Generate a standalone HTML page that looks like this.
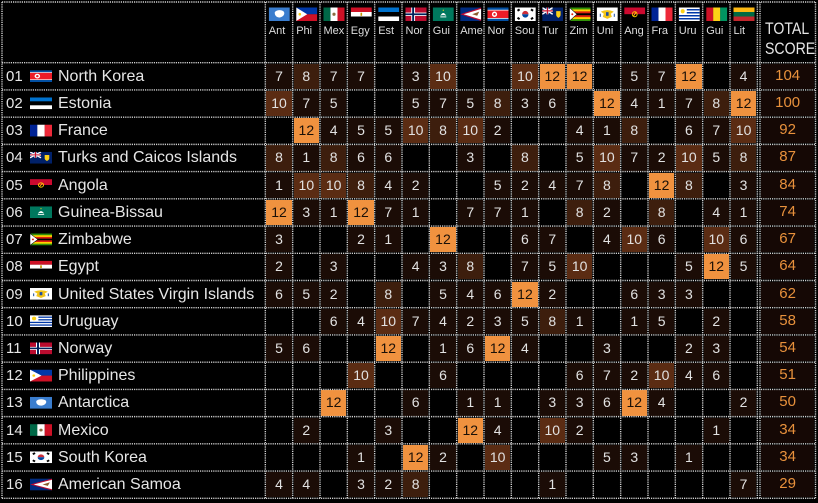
<!DOCTYPE html>
<html><head><meta charset="utf-8">
<style>
html,body{margin:0;padding:0;background:#000;}
#w{position:relative;width:818px;height:503px;overflow:hidden;background:#000;font-family:"Liberation Sans",sans-serif;}
.row{position:absolute;left:0;width:818px;height:27.225px;}
.row b{position:absolute;left:6px;top:0;font-weight:normal;font-size:15px;line-height:27.2px;color:#e6e6e6}
.row i{position:absolute;left:58px;top:0;font-style:normal;font-size:16px;line-height:27.2px;color:#e6e6e6;white-space:nowrap}
.row div.g{position:absolute;left:265.33px;top:0;height:27.225px;display:flex}
.g span{flex:0 0 27.33px;height:27.225px;box-sizing:border-box;border:1.2px solid #000;background-clip:padding-box;color:#e2e2e2;font-size:14px;line-height:24.8px;text-align:center;}
.g span.a{background-color:#1b0c06}
.g span.b{background-color:#3d1e0d}
.g span.c{background-color:#5b2c13}
.g span.d{background-color:#f0923f;color:#1a1008}
.g span.t{flex:0 0 55.5px;margin-left:2.67px;background-color:#150805;color:#e8913c;font-size:15px}
.h{position:absolute;top:25.7px;font-size:11px;line-height:11px;color:#ddd}
.tt{position:absolute;left:765px;font-size:17px;line-height:17px;color:#e6e6e6;transform:scaleX(0.83);transform-origin:0 0;}
svg{position:absolute;left:0;top:0}
</style></head><body><div id="w">

<div class="h" style="left:268.8px">Ant</div>
<div class="h" style="left:296.2px">Phi</div>
<div class="h" style="left:323.5px">Mex</div>
<div class="h" style="left:350.8px">Egy</div>
<div class="h" style="left:378.2px">Est</div>
<div class="h" style="left:405.5px">Nor</div>
<div class="h" style="left:432.8px">Gui</div>
<div class="h" style="left:460.2px">Ame</div>
<div class="h" style="left:487.5px">Nor</div>
<div class="h" style="left:514.8px">Sou</div>
<div class="h" style="left:542.2px">Tur</div>
<div class="h" style="left:569.5px">Zim</div>
<div class="h" style="left:596.8px">Uni</div>
<div class="h" style="left:624.2px">Ang</div>
<div class="h" style="left:651.5px">Fra</div>
<div class="h" style="left:678.8px">Uru</div>
<div class="h" style="left:706.2px">Gui</div>
<div class="h" style="left:733.5px">Lit</div>
<div class="tt" style="top:19.6px">TOTAL</div>
<div class="tt" style="top:40.2px">SCORE</div>

<div class="row" style="top:62.7px"><b>01</b><i>North Korea</i><div class="g"><span class="a">7</span><span class="b">8</span><span class="a">7</span><span class="a">7</span><span></span><span class="a">3</span><span class="c">10</span><span></span><span></span><span class="c">10</span><span class="d">12</span><span class="d">12</span><span></span><span class="a">5</span><span class="a">7</span><span class="d">12</span><span></span><span class="a">4</span><span class="t">104</span></div></div>
<div class="row" style="top:89.93px"><b>02</b><i>Estonia</i><div class="g"><span class="c">10</span><span class="a">7</span><span class="a">5</span><span></span><span></span><span class="a">5</span><span class="a">7</span><span class="a">5</span><span class="b">8</span><span class="a">3</span><span class="a">6</span><span></span><span class="d">12</span><span class="a">4</span><span class="a">1</span><span class="a">7</span><span class="b">8</span><span class="d">12</span><span class="t">100</span></div></div>
<div class="row" style="top:117.15px"><b>03</b><i>France</i><div class="g"><span></span><span class="d">12</span><span class="a">4</span><span class="a">5</span><span class="a">5</span><span class="c">10</span><span class="b">8</span><span class="c">10</span><span class="a">2</span><span></span><span></span><span class="a">4</span><span class="a">1</span><span class="b">8</span><span></span><span class="a">6</span><span class="a">7</span><span class="c">10</span><span class="t">92</span></div></div>
<div class="row" style="top:144.38px"><b>04</b><i>Turks and Caicos Islands</i><div class="g"><span class="b">8</span><span class="a">1</span><span class="b">8</span><span class="a">6</span><span class="a">6</span><span></span><span></span><span class="a">3</span><span></span><span class="b">8</span><span></span><span class="a">5</span><span class="c">10</span><span class="a">7</span><span class="a">2</span><span class="c">10</span><span class="a">5</span><span class="b">8</span><span class="t">87</span></div></div>
<div class="row" style="top:171.6px"><b>05</b><i>Angola</i><div class="g"><span class="a">1</span><span class="c">10</span><span class="c">10</span><span class="b">8</span><span class="a">4</span><span class="a">2</span><span></span><span></span><span class="a">5</span><span class="a">2</span><span class="a">4</span><span class="a">7</span><span class="b">8</span><span></span><span class="d">12</span><span class="b">8</span><span></span><span class="a">3</span><span class="t">84</span></div></div>
<div class="row" style="top:198.83px"><b>06</b><i>Guinea-Bissau</i><div class="g"><span class="d">12</span><span class="a">3</span><span class="a">1</span><span class="d">12</span><span class="a">7</span><span class="a">1</span><span></span><span class="a">7</span><span class="a">7</span><span class="a">1</span><span></span><span class="b">8</span><span class="a">2</span><span></span><span class="b">8</span><span></span><span class="a">4</span><span class="a">1</span><span class="t">74</span></div></div>
<div class="row" style="top:226.05px"><b>07</b><i>Zimbabwe</i><div class="g"><span class="a">3</span><span></span><span></span><span class="a">2</span><span class="a">1</span><span></span><span class="d">12</span><span></span><span></span><span class="a">6</span><span class="a">7</span><span></span><span class="a">4</span><span class="c">10</span><span class="a">6</span><span></span><span class="c">10</span><span class="a">6</span><span class="t">67</span></div></div>
<div class="row" style="top:253.28px"><b>08</b><i>Egypt</i><div class="g"><span class="a">2</span><span></span><span class="a">3</span><span></span><span></span><span class="a">4</span><span class="a">3</span><span class="b">8</span><span></span><span class="a">7</span><span class="a">5</span><span class="c">10</span><span></span><span></span><span></span><span class="a">5</span><span class="d">12</span><span class="a">5</span><span class="t">64</span></div></div>
<div class="row" style="top:280.5px"><b>09</b><i>United States Virgin Islands</i><div class="g"><span class="a">6</span><span class="a">5</span><span class="a">2</span><span></span><span class="b">8</span><span></span><span class="a">5</span><span class="a">4</span><span class="a">6</span><span class="d">12</span><span class="a">2</span><span></span><span></span><span class="a">6</span><span class="a">3</span><span class="a">3</span><span></span><span></span><span class="t">62</span></div></div>
<div class="row" style="top:307.73px"><b>10</b><i>Uruguay</i><div class="g"><span></span><span></span><span class="a">6</span><span class="a">4</span><span class="c">10</span><span class="a">7</span><span class="a">4</span><span class="a">2</span><span class="a">3</span><span class="a">5</span><span class="b">8</span><span class="a">1</span><span></span><span class="a">1</span><span class="a">5</span><span></span><span class="a">2</span><span></span><span class="t">58</span></div></div>
<div class="row" style="top:334.95px"><b>11</b><i>Norway</i><div class="g"><span class="a">5</span><span class="a">6</span><span></span><span></span><span class="d">12</span><span></span><span class="a">1</span><span class="a">6</span><span class="d">12</span><span class="a">4</span><span></span><span></span><span class="a">3</span><span></span><span></span><span class="a">2</span><span class="a">3</span><span></span><span class="t">54</span></div></div>
<div class="row" style="top:362.18px"><b>12</b><i>Philippines</i><div class="g"><span></span><span></span><span></span><span class="c">10</span><span></span><span></span><span class="a">6</span><span></span><span></span><span></span><span></span><span class="a">6</span><span class="a">7</span><span class="a">2</span><span class="c">10</span><span class="a">4</span><span class="a">6</span><span></span><span class="t">51</span></div></div>
<div class="row" style="top:389.4px"><b>13</b><i>Antarctica</i><div class="g"><span></span><span></span><span class="d">12</span><span></span><span></span><span class="a">6</span><span></span><span class="a">1</span><span class="a">1</span><span></span><span class="a">3</span><span class="a">3</span><span class="a">6</span><span class="d">12</span><span class="a">4</span><span></span><span></span><span class="a">2</span><span class="t">50</span></div></div>
<div class="row" style="top:416.63px"><b>14</b><i>Mexico</i><div class="g"><span></span><span class="a">2</span><span></span><span></span><span class="a">3</span><span></span><span></span><span class="d">12</span><span class="a">4</span><span></span><span class="c">10</span><span class="a">2</span><span></span><span></span><span></span><span></span><span class="a">1</span><span></span><span class="t">34</span></div></div>
<div class="row" style="top:443.85px"><b>15</b><i>South Korea</i><div class="g"><span></span><span></span><span></span><span class="a">1</span><span></span><span class="d">12</span><span class="a">2</span><span></span><span class="c">10</span><span></span><span></span><span></span><span class="a">5</span><span class="a">3</span><span></span><span class="a">1</span><span></span><span></span><span class="t">34</span></div></div>
<div class="row" style="top:471.08px"><b>16</b><i>American Samoa</i><div class="g"><span class="a">4</span><span class="a">4</span><span></span><span class="a">3</span><span class="a">2</span><span class="b">8</span><span></span><span></span><span></span><span></span><span class="a">1</span><span></span><span></span><span></span><span></span><span></span><span></span><span class="a">7</span><span class="t">29</span></div></div>

<svg width="818" height="503" viewBox="0 0 818 503" xmlns="http://www.w3.org/2000/svg">
<defs>
<symbol id="kp" viewBox="0 0 21 13" preserveAspectRatio="none"><rect width="21" height="13" fill="#024fa2"/><rect y="2.2" width="21" height="8.6" fill="#fff"/><rect y="2.9" width="21" height="7.2" fill="#ed1c27"/><circle cx="7" cy="6.5" r="2.6" fill="#fff"/><circle cx="7" cy="6.5" r="1.2" fill="#ed1c27"/></symbol>
<symbol id="ee" viewBox="0 0 21 13" preserveAspectRatio="none"><rect width="21" height="4.4" fill="#0072ce"/><rect y="4.33" width="21" height="4.4" fill="#000"/><rect y="8.67" width="21" height="4.33" fill="#fff"/></symbol>
<symbol id="fr" viewBox="0 0 21 13" preserveAspectRatio="none"><rect width="7.1" height="13" fill="#002395"/><rect x="7" width="7.1" height="13" fill="#fff"/><rect x="14" width="7" height="13" fill="#ed2939"/></symbol>
<symbol id="tc" viewBox="0 0 21 13" preserveAspectRatio="none"><rect width="21" height="13" fill="#012169"/><path d="M0 0L10.5 6.5M10.5 0L0 6.5" stroke="#fff" stroke-width="1.4"/><path d="M5.25 0V6.5M0 3.25H10.5" stroke="#fff" stroke-width="2.2"/><path d="M5.25 0V6.5M0 3.25H10.5" stroke="#c8102e" stroke-width="1.1"/><path d="M14 3.5h4.4v3.5c0 2-2.2 3-2.2 3s-2.2-1-2.2-3z" fill="#fcd116"/></symbol>
<symbol id="ao" viewBox="0 0 21 13" preserveAspectRatio="none"><rect width="21" height="6.6" fill="#cc092f"/><rect y="6.5" width="21" height="6.5" fill="#000"/><circle cx="10.5" cy="6.5" r="2.4" fill="none" stroke="#ffcb00" stroke-width="0.9"/><path d="M9 8.5L12 4.5" stroke="#ffcb00" stroke-width="0.9"/></symbol>
<symbol id="mo" viewBox="0 0 21 13" preserveAspectRatio="none"><rect width="21" height="13" fill="#00785e"/><path d="M7.5 8 Q10.5 2.5 13.5 8 Q10.5 6.8 7.5 8z" fill="#fff"/><rect x="7.5" y="8.6" width="6" height="0.9" fill="#fff"/><circle cx="10.5" cy="2.6" r="0.6" fill="#fbd116"/></symbol>
<symbol id="zw" viewBox="0 0 21 13" preserveAspectRatio="none"><rect width="21" height="13" fill="#319208"/><rect y="1.86" width="21" height="9.3" fill="#ffd200"/><rect y="3.71" width="21" height="5.58" fill="#de2010"/><rect y="5.57" width="21" height="1.86" fill="#000"/><polygon points="0,0 7.5,6.5 0,13" fill="#fff" stroke="#000" stroke-width="0.5"/><circle cx="2.8" cy="6.5" r="1" fill="#de2010"/></symbol>
<symbol id="eg" viewBox="0 0 21 13" preserveAspectRatio="none"><rect width="21" height="4.4" fill="#ce1126"/><rect y="4.33" width="21" height="4.4" fill="#fff"/><rect y="8.67" width="21" height="4.33" fill="#000"/><rect x="9.7" y="5" width="1.6" height="3" fill="#c09300"/></symbol>
<symbol id="vi" viewBox="0 0 21 13" preserveAspectRatio="none"><rect width="21" height="13" fill="#fff"/><path d="M4 4 Q10.5 1 17 4 L14 6 L15 9 L10.5 11 L6 9 L7 6z" fill="#f4c61a"/><rect x="9.2" y="4.5" width="2.6" height="3.5" fill="#1f4ea1"/><rect x="3" y="6" width="1" height="3" fill="#1f4ea1"/><rect x="17" y="6" width="1" height="3" fill="#1f4ea1"/></symbol>
<symbol id="uy" viewBox="0 0 21 13" preserveAspectRatio="none"><rect width="21" height="13" fill="#fff"/><rect x="8" y="1.44" width="13" height="1.44" fill="#0038a8"/><rect x="8" y="4.33" width="13" height="1.44" fill="#0038a8"/><rect y="7.22" width="21" height="1.44" fill="#0038a8"/><rect y="10.11" width="21" height="1.44" fill="#0038a8"/><circle cx="3.9" cy="3.6" r="2" fill="#fcd116"/></symbol>
<symbol id="no" viewBox="0 0 21 13" preserveAspectRatio="none"><rect width="21" height="13" fill="#ba0c2f"/><rect x="5.73" width="3.82" height="13" fill="#fff"/><rect y="4.875" width="21" height="3.25" fill="#fff"/><rect x="6.68" width="1.9" height="13" fill="#00205b"/><rect y="5.69" width="21" height="1.625" fill="#00205b"/></symbol>
<symbol id="ph" viewBox="0 0 21 13" preserveAspectRatio="none"><rect width="21" height="6.6" fill="#0038a8"/><rect y="6.5" width="21" height="6.5" fill="#ce1126"/><polygon points="0,0 11,6.5 0,13" fill="#fff"/><circle cx="3.6" cy="6.5" r="1.3" fill="#fcd116"/></symbol>
<symbol id="aq" viewBox="0 0 21 13" preserveAspectRatio="none"><rect width="21" height="13" fill="#3a7dce"/><path d="M6 4.5 C8 2 13 2 15 4 C16.5 6 14.5 9 11.5 9.5 C9 10 5.5 8.5 6 4.5z" fill="#fff"/></symbol>
<symbol id="mx" viewBox="0 0 21 13" preserveAspectRatio="none"><rect width="7.1" height="13" fill="#006847"/><rect x="7" width="7.1" height="13" fill="#fff"/><rect x="14" width="7" height="13" fill="#ce1126"/><circle cx="10.5" cy="6.5" r="1.6" fill="#8c6b3f"/></symbol>
<symbol id="kr" viewBox="0 0 21 13" preserveAspectRatio="none"><rect width="21" height="13" fill="#fff"/><path d="M7.3 6.5a3.2 3.2 0 0 1 6.4 0z" fill="#cd2e3a"/><path d="M7.3 6.5a3.2 3.2 0 0 0 6.4 0z" fill="#0047a0"/><g fill="#000"><rect x="2.5" y="1.5" width="2.5" height="2" transform="rotate(-33 3.75 2.5)"/><rect x="16" y="9.5" width="2.5" height="2" transform="rotate(-33 17.25 10.5)"/><rect x="16" y="1.5" width="2.5" height="2" transform="rotate(33 17.25 2.5)"/><rect x="2.5" y="9.5" width="2.5" height="2" transform="rotate(33 3.75 10.5)"/></g></symbol>
<symbol id="as" viewBox="0 0 21 13" preserveAspectRatio="none"><rect width="21" height="13" fill="#002b7f"/><polygon points="21,0 0,6.5 21,13" fill="#bf0a30"/><polygon points="21,1.3 3.5,6.5 21,11.7" fill="#fff"/><path d="M12 6.5 L19 4 L17 8z" fill="#8b5a2b"/></symbol>
<symbol id="gn" viewBox="0 0 21 13" preserveAspectRatio="none"><rect width="7.1" height="13" fill="#ce1126"/><rect x="7" width="7.1" height="13" fill="#fcd116"/><rect x="14" width="7" height="13" fill="#009460"/></symbol>
<symbol id="lt" viewBox="0 0 21 13" preserveAspectRatio="none"><rect width="21" height="4.4" fill="#fdb913"/><rect y="4.33" width="21" height="4.4" fill="#006a44"/><rect y="8.67" width="21" height="4.33" fill="#c1272d"/></symbol>
</defs>

<g>
<use href="#aq" x="268.8" y="7.5" width="21" height="13.5"/>
<use href="#ph" x="296.2" y="7.5" width="21" height="13.5"/>
<use href="#mx" x="323.5" y="7.5" width="21" height="13.5"/>
<use href="#eg" x="350.8" y="7.5" width="21" height="13.5"/>
<use href="#ee" x="378.2" y="7.5" width="21" height="13.5"/>
<use href="#no" x="405.5" y="7.5" width="21" height="13.5"/>
<use href="#mo" x="432.8" y="7.5" width="21" height="13.5"/>
<use href="#as" x="460.2" y="7.5" width="21" height="13.5"/>
<use href="#kp" x="487.5" y="7.5" width="21" height="13.5"/>
<use href="#kr" x="514.8" y="7.5" width="21" height="13.5"/>
<use href="#tc" x="542.2" y="7.5" width="21" height="13.5"/>
<use href="#zw" x="569.5" y="7.5" width="21" height="13.5"/>
<use href="#vi" x="596.8" y="7.5" width="21" height="13.5"/>
<use href="#ao" x="624.2" y="7.5" width="21" height="13.5"/>
<use href="#fr" x="651.5" y="7.5" width="21" height="13.5"/>
<use href="#uy" x="678.8" y="7.5" width="21" height="13.5"/>
<use href="#gn" x="706.2" y="7.5" width="21" height="13.5"/>
<use href="#lt" x="733.5" y="7.5" width="21" height="13.5"/>
</g>

<g>
<use href="#kp" x="30" y="70.2" width="22" height="11.8"/>
<use href="#ee" x="30" y="97.43" width="22" height="11.8"/>
<use href="#fr" x="30" y="124.65" width="22" height="11.8"/>
<use href="#tc" x="30" y="151.88" width="22" height="11.8"/>
<use href="#ao" x="30" y="179.1" width="22" height="11.8"/>
<use href="#mo" x="30" y="206.33" width="22" height="11.8"/>
<use href="#zw" x="30" y="233.55" width="22" height="11.8"/>
<use href="#eg" x="30" y="260.78" width="22" height="11.8"/>
<use href="#vi" x="30" y="288" width="22" height="11.8"/>
<use href="#uy" x="30" y="315.23" width="22" height="11.8"/>
<use href="#no" x="30" y="342.45" width="22" height="11.8"/>
<use href="#ph" x="30" y="369.68" width="22" height="11.8"/>
<use href="#aq" x="30" y="396.9" width="22" height="11.8"/>
<use href="#mx" x="30" y="424.13" width="22" height="11.8"/>
<use href="#kr" x="30" y="451.35" width="22" height="11.8"/>
<use href="#as" x="30" y="478.58" width="22" height="11.8"/>
</g>

<g stroke="#d0d0d0" stroke-width="1.4" stroke-dasharray="1.2 1" fill="none">
<path d="M2 2H815.5M2 62.7H815.5M2 89.93H815.5M2 117.15H815.5M2 144.38H815.5M2 171.6H815.5M2 198.83H815.5M2 226.05H815.5M2 253.28H815.5M2 280.5H815.5M2 307.73H815.5M2 334.95H815.5M2 362.18H815.5M2 389.4H815.5M2 416.63H815.5M2 443.85H815.5M2 471.08H815.5M2 498.3H815.5"/>
<path d="M2 2V498.3M265.33 2V498.3M292.67 2V498.3M320 2V498.3M347.33 2V498.3M374.67 2V498.3M402 2V498.3M429.33 2V498.3M456.67 2V498.3M484 2V498.3M511.33 2V498.3M538.67 2V498.3M566 2V498.3M593.33 2V498.3M620.67 2V498.3M648 2V498.3M675.33 2V498.3M702.67 2V498.3M730 2V498.3M757.33 2V498.3M760 2V498.3M815.5 2V498.3"/>
</g>
</svg>
</div></body></html>
